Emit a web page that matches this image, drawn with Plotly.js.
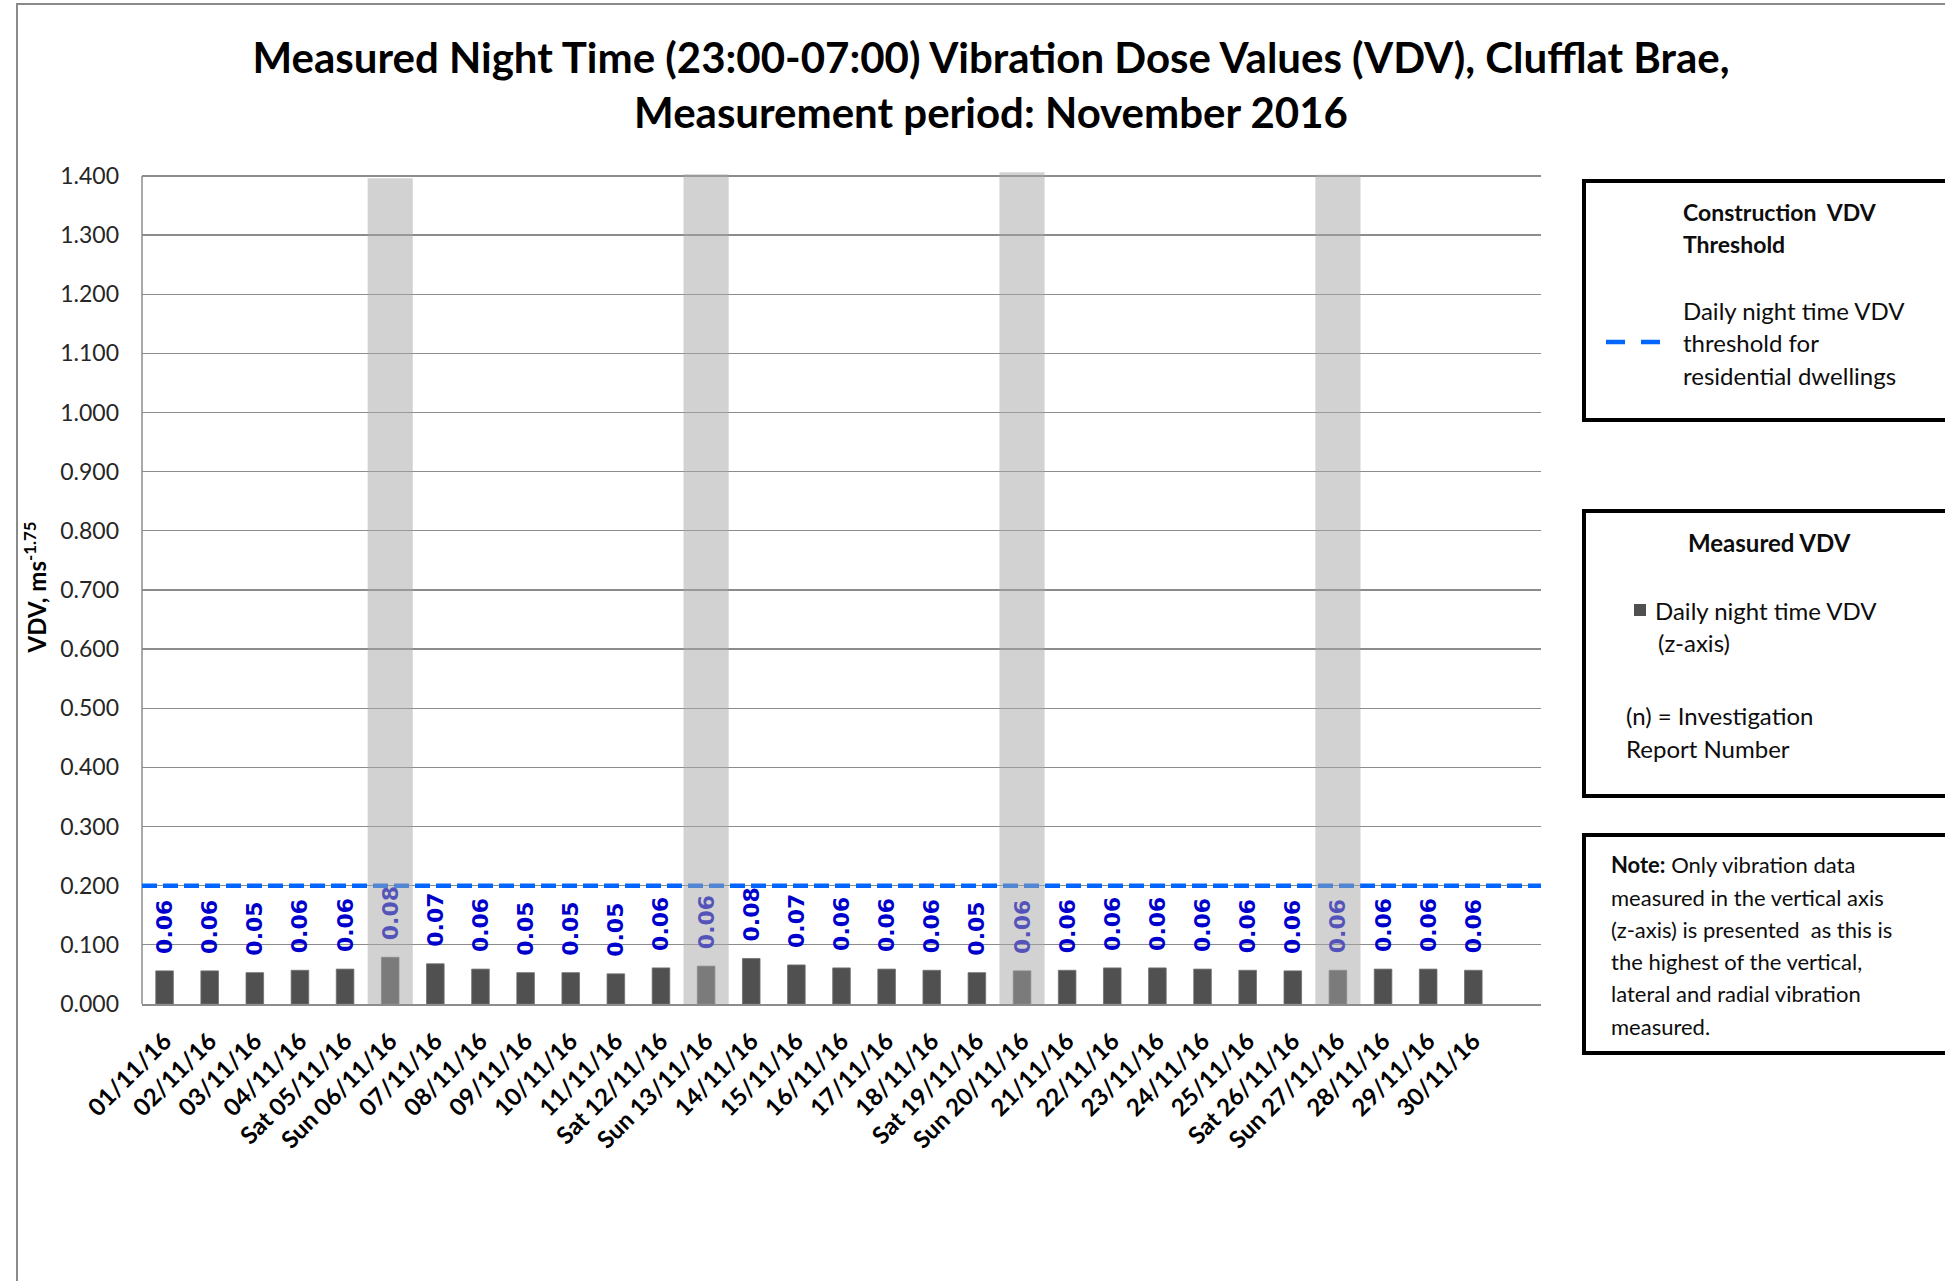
<!DOCTYPE html>
<html><head><meta charset="utf-8">
<script src="https://cdn.plot.ly/plotly-3.0.1.min.js"></script>
<style>html,body{margin:0;padding:0;background:#fff}#chart{width:1945px;height:1281px}</style>
</head><body><div id="chart"></div>
<script>
// ---- data ----
const categories = ["01/11/16","02/11/16","03/11/16","04/11/16","Sat 05/11/16","Sun 06/11/16","07/11/16","08/11/16","09/11/16","10/11/16","11/11/16","Sat 12/11/16","Sun 13/11/16","14/11/16","15/11/16","16/11/16","17/11/16","18/11/16","Sat 19/11/16","Sun 20/11/16","21/11/16","22/11/16","23/11/16","24/11/16","25/11/16","Sat 26/11/16","Sun 27/11/16","28/11/16","29/11/16","30/11/16"];
const nightVDV = [0.056,0.056,0.053,0.057,0.059,0.079,0.068,0.059,0.053,0.053,0.051,0.061,0.064,0.077,0.066,0.061,0.059,0.057,0.053,0.056,0.057,0.061,0.061,0.059,0.057,0.056,0.057,0.059,0.059,0.057];
const sundayBand = [null,null,null,null,null,1.396,null,null,null,null,null,null,1.403,null,null,null,null,null,null,1.406,null,null,null,null,null,null,1.402,null,null,null];
const thresholdVDV = 0.2;
const yTickValues = [0,0.1,0.2,0.3,0.4,0.5,0.6,0.7,0.8,0.9,1.0,1.1,1.2,1.3,1.4];
const emptySlotsAfter = 1;

// ---- geometry helpers (pixel -> paper) ----
const W = 1945, H = 1281;
const M = {l:142, r:404, t:170, b:277};
const PL = M.l, PR = W - M.r, PT = M.t, PB = H - M.b;
const px2x = p => (p - PL) / (PR - PL);
const px2y = p => (PB - p) / (PB - PT);

const idx = categories.map((_, i) => i);
const xMin = -0.5, xMax = categories.length - 1 + emptySlotsAfter + 0.5;

// band polygons
const bandX = [], bandY = [];
sundayBand.forEach((v, i) => {
  if (v == null) return;
  bandX.push(i - 0.5, i - 0.5, i + 0.5, i + 0.5, i - 0.5, null);
  bandY.push(0, v, v, 0, 0, null);
});

const NB = '\u00a0';
const traces = [
  {
    type: 'bar', x: idx, y: nightVDV, width: 0.39,
    marker: {color: '#505050', line: {color: '#707070', width: 0.8}},
    texttemplate: NB + NB + '<b>%{y:.2f}</b>', textposition: 'outside', textangle: -90,
    textfont: {family: 'DejaVu Sans', size: 22, color: '#0000cc'},
    constraintext: 'none', cliponaxis: false, hoverinfo: 'skip', showlegend: false
  },
  {
    type: 'scatter', mode: 'lines', x: [xMin, xMax], y: [thresholdVDV, thresholdVDV],
    line: {color: '#0066ff', width: 4.5, dash: '15px,6px'}, hoverinfo: 'skip', showlegend: false
  },
  {
    type: 'scatter', mode: 'lines', x: bandX, y: bandY, fill: 'toself',
    fillcolor: 'rgba(165,165,165,0.5)', line: {width: 0, color: 'rgba(0,0,0,0)'},
    hoverinfo: 'skip', showlegend: false
  }
];

const body24 = {family: 'Lato', size: 24, color: '#0d0d0d'};
const body22 = {family: 'Lato', size: 22, color: '#0d0d0d'};
const bold = {family: 'Lato', size: 23, color: '#0d0d0d'};
const bold24 = {family: 'Lato', size: 24, color: '#0d0d0d'};
const txt = (t, x, y, font, opts = {}) => Object.assign({
  text: t, xref: 'paper', yref: 'paper', x: px2x(x), y: px2y(y),
  xanchor: 'left', yanchor: 'middle', showarrow: false, align: 'left', font: font
}, opts);

const annotations = [
  txt('<b>Construction  VDV</b>', 1681, 212, bold),
  txt('<b>Threshold</b>', 1681, 244, bold),
  txt('Daily night time VDV', 1681, 310, body24),
  txt('threshold for', 1681, 342, body24),
  txt('residential dwellings', 1681, 375, body24),
  txt('<b>Measured VDV</b>', 1769, 542, bold24, {xanchor: 'center'}),
  txt('Daily night time VDV', 1653, 610, body24),
  txt('(z-axis)', 1656, 642, body24),
  txt('(n) = Investigation', 1624, 716, body24),
  txt('Report Number', 1624, 748, body24),
  txt('<b>Note:</b> Only vibration data', 1609, 864, body22),
  txt('measured in the vertical axis', 1609, 897, body22),
  txt('(z-axis) is presented  as this is', 1609, 929, body22),
  txt('the highest of the vertical,', 1609, 961, body22),
  txt('lateral and radial vibration', 1609, 993, body22),
  txt('measured.', 1609, 1026, body22)
];

const rectPx = (x0, y0, x1, y1, line, fill) => ({
  type: 'rect', xref: 'paper', yref: 'paper',
  x0: px2x(x0), x1: px2x(x1), y0: px2y(y1), y1: px2y(y0),
  line: line, fillcolor: fill || 'rgba(0,0,0,0)', layer: 'above'
});

const shapes = [
  // chart area border
  Object.assign(rectPx(17, 4, 2100, 1500, {color: '#8a8a8a', width: 2}), {layer: 'below'}),
  // value axis line
  {type: 'line', xref: 'paper', yref: 'y', x0: 0, x1: 0, y0: yTickValues[0], y1: yTickValues[yTickValues.length - 1],
   line: {color: '#8c8c8c', width: 1.5}, layer: 'below'},
  // legend boxes
  rectPx(1584, 181, 2100, 420, {color: '#000', width: 4}),
  rectPx(1584, 511, 2100, 796, {color: '#000', width: 4}),
  rectPx(1584, 835, 2100, 1053, {color: '#000', width: 4}),
  // legend samples
  {type: 'line', xref: 'paper', yref: 'paper', x0: px2x(1606), x1: px2x(1662), y0: px2y(342), y1: px2y(342),
   line: {color: '#0066ff', width: 4.5, dash: '19px,16px'}},
  rectPx(1634, 604, 1646, 616, {width: 0}, '#505050')
];

const layout = {
  width: W, height: H, margin: M,
  paper_bgcolor: '#fff', plot_bgcolor: '#fff',
  font: {family: 'Lato', color: '#000'},
  title: {
    text: '<b>Measured Night Time (23:00-07:00) Vibration Dose Values (VDV), Clufflat Brae,</b><br><b>Measurement period: November 2016</b>',
    font: {family: 'Lato', size: 42, color: '#000'},
    x: 991 / W, xanchor: 'center', xref: 'container',
    y: 1 - 73 / H, yanchor: 'top', yref: 'container'
  },
  xaxis: {
    range: [xMin, xMax], tickmode: 'array', tickvals: idx, ticktext: categories.map(c => '<b>' + c + '</b>'),
    tickangle: -45, tickfont: {family: 'Lato', size: 24, color: '#000'},
    showgrid: false, zeroline: false, showline: true, linecolor: '#8c8c8c', linewidth: 1.5,
    ticks: '', automargin: false, ticklabelstandoff: 12
  },
  yaxis: {
    range: [0, 1.41], tickmode: 'array', tickvals: yTickValues, tickformat: '.3f',
    tickfont: {family: 'Lato', size: 23, color: '#262626'},
    showgrid: true, gridcolor: '#8c8c8c', gridwidth: 1.3, zeroline: false, showline: false,
    ticks: '', automargin: false, ticklabelstandoff: 22,
    title: {text: '<b>VDV, ms<sup>-1.75</sup></b>', font: {family: 'Lato', size: 24, color: '#000'}, standoff: 6}
  },
  annotations: annotations, shapes: shapes, showlegend: false, bargap: 0
};

Plotly.newPlot('chart', traces, layout, {displayModeBar: false, staticPlot: true});
</script></body></html>
